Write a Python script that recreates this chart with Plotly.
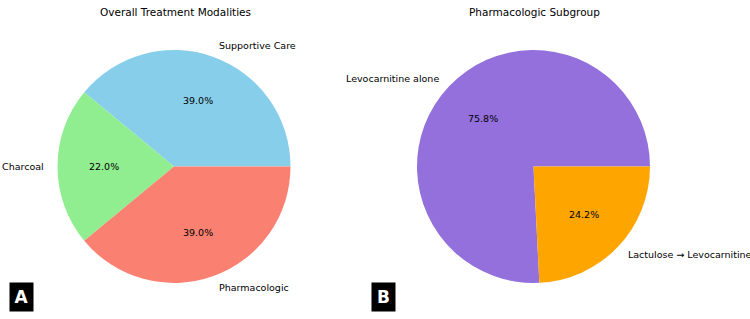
import math
import plotly.graph_objects as go

# Data
overall_labels = ["Supportive Care", "Charcoal", "Pharmacologic"]
overall_values = [39.0, 22.0, 39.0]
overall_colors = ["#87CEEB", "#90EE90", "#FA8072"]

pharm_labels = ["Levocarnitine alone", "Lactulose \u2192 Levocarnitine"]
pharm_values = [75.8, 24.2]
pharm_colors = ["#9370DB", "#FFA500"]

titles = ["Overall Treatment Modalities", "Pharmacologic Subgroup"]
panel_tags = ["A", "B"]

W, H = 750, 319
FONT = "DejaVu Sans"

# layout geometry (pixels)
pies = [
    dict(labels=overall_labels, values=overall_values, colors=overall_colors, cx=174.0, cy=166.5, r=116.5),
    dict(labels=pharm_labels, values=pharm_values, colors=pharm_colors, cx=533.5, cy=166.5, r=116.5),
]

fig = go.Figure()
annotations = []

for i, p in enumerate(pies):
    cx, cy, r = p["cx"], p["cy"], p["r"]
    total = sum(p["values"])
    first_deg = 360.0 * p["values"][0] / total
    # plotly's counterclockwise mode shifts the start by the first slice;
    # compensate so the first slice starts at 3 o'clock like matplotlib
    fig.add_trace(go.Pie(
        labels=p["labels"], values=p["values"],
        marker=dict(colors=p["colors"], line=dict(width=0)),
        sort=False, direction="counterclockwise", rotation=90 - first_deg,
        textinfo="none", hoverinfo="label+percent", showlegend=False,
        domain=dict(x=[(cx - r) / W, (cx + r) / W],
                    y=[(H - cy - r) / H, (H - cy + r) / H]),
    ))
    start = 0.0
    for lab, v in zip(p["labels"], p["values"]):
        ang = start + 360.0 * v / total / 2
        start += 360.0 * v / total
        c, s = math.cos(math.radians(ang)), math.sin(math.radians(ang))
        # outer label
        lx, ly = cx + 1.1 * r * c, cy - 1.1 * r * s
        annotations.append(dict(
            x=lx / W, y=(H - ly) / H, xref="paper", yref="paper",
            text=lab, showarrow=False,
            xanchor="left" if c > 0 else "right", yanchor="middle",
            font=dict(family=FONT, size=9.5, color="black"),
        ))
        # percent label
        px_, py_ = cx + 0.6 * r * c, cy - 0.6 * r * s
        annotations.append(dict(
            x=px_ / W, y=(H - py_) / H, xref="paper", yref="paper",
            text=f"{100.0 * v / total:.1f}%", showarrow=False,
            xanchor="center", yanchor="middle",
            font=dict(family=FONT, size=9.5, color="black"),
        ))
    # title
    annotations.append(dict(
        x=(cx + 1) / W, y=(H - 12) / H, xref="paper", yref="paper",
        text=titles[i], showarrow=False, xanchor="center", yanchor="middle",
        font=dict(family=FONT, size=10.5, color="black"),
    ))

# panel tags
tag_x = [21.5, 383.5]
for tx, tag in zip(tag_x, panel_tags):
    annotations.append(dict(
        x=tx / W, y=(H - 297) / H, xref="paper", yref="paper",
        text=f"<b>{tag}</b>", showarrow=False, xanchor="center", yanchor="middle",
        font=dict(family=FONT, size=17, color="white"),
        bgcolor="black", width=15, height=20, borderpad=4,
    ))

fig.update_layout(
    width=W, height=H,
    margin=dict(l=0, r=0, t=0, b=0),
    paper_bgcolor="white", plot_bgcolor="white",
    annotations=annotations,
)

fig.write_html("out.html")
